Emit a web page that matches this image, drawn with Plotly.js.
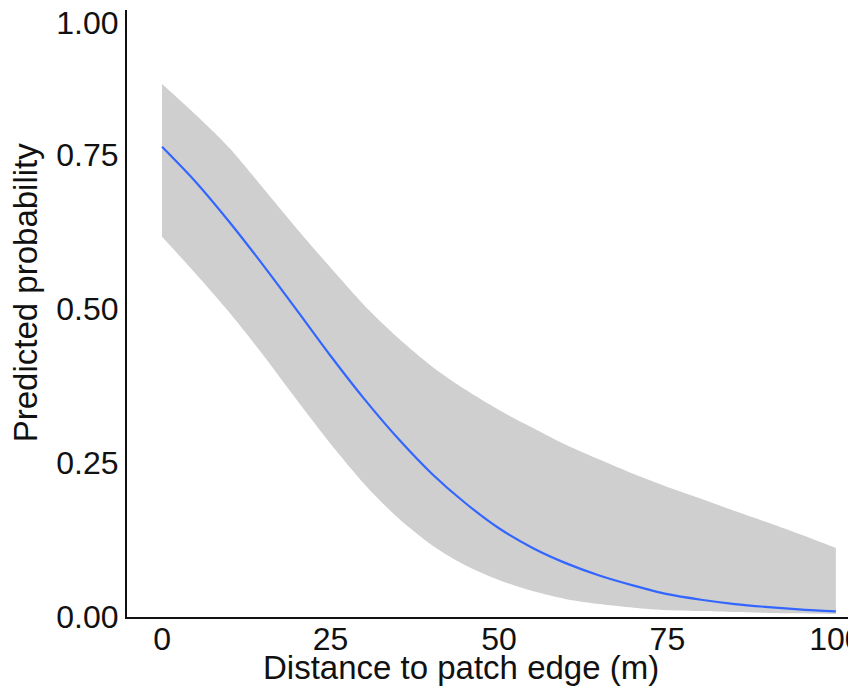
<!DOCTYPE html>
<html>
<head>
<meta charset="utf-8">
<script src="https://cdn.plot.ly/plotly-3.0.1.min.js"></script>
<style>html,body{margin:0;padding:0;background:#fff;}#chart{width:848px;height:687px;}</style>
</head>
<body>
<div id="chart"></div>
<script>
// Distance to patch edge (m)
const distance = [0,5,10,15,20,25,30,35,40,45,50,55,60,65,70,75,80,85,90,95,100];
// Predicted probability (fitted line)
const predicted = [0.763,0.706,0.641,0.571,0.498,0.424,0.354,0.290,0.233,0.185,0.144,0.112,0.087,0.067,0.051,0.037,0.028,0.021,0.016,0.012,0.009];
// Confidence band
const upperCI = [0.865,0.815,0.761,0.696,0.630,0.567,0.506,0.453,0.407,0.369,0.336,0.307,0.279,0.255,0.232,0.211,0.192,0.172,0.153,0.133,0.112];
const lowerCI = [0.617,0.557,0.494,0.425,0.352,0.281,0.216,0.161,0.117,0.084,0.060,0.042,0.029,0.021,0.015,0.011,0.0097,0.008,0.0065,0.006,0.005];
// Axis ticks
const xTickVals = [0,25,50,75,100];
const xTickText = ['0','25','50','75','100'];
const yTickVals = [0,0.25,0.5,0.75,0.964];
const yTickText = ['0.00','0.25','0.50','0.75','1.00'];
const xTitle = 'Distance to patch edge (m)';
const yTitle = 'Predicted probability';

const font = 'Liberation Sans, Arial, Helvetica, sans-serif';

const traces = [
  {x: distance, y: lowerCI, type: 'scatter', mode: 'lines', line: {width: 0, color: 'rgba(0,0,0,0)', shape: 'spline', smoothing: 0.8}, showlegend: false, hoverinfo: 'skip'},
  {x: distance, y: upperCI, type: 'scatter', mode: 'lines', line: {width: 0, color: 'rgba(0,0,0,0)', shape: 'spline', smoothing: 0.8}, fill: 'tonexty', fillcolor: '#cfcfcf', showlegend: false, hoverinfo: 'skip'},
  {x: distance, y: predicted, type: 'scatter', mode: 'lines', line: {width: 2.2, color: '#3366ff', shape: 'spline', smoothing: 0.8}, showlegend: false}
];

const layout = {
  width: 848, height: 687,
  margin: {l: 127, r: 0, t: 10, b: 70, pad: 0, autoexpand: false},
  paper_bgcolor: '#fff', plot_bgcolor: '#fff',
  font: {family: font, size: 32, color: '#111'},
  showlegend: false,
  xaxis: {
    range: [-5.2, 101.8], showgrid: false, zeroline: false,
    showline: true, linecolor: '#111', linewidth: 2,
    tickvals: xTickVals, ticktext: xTickText, ticks: '',
    ticklabelstandoff: -7, ticklabeloverflow: 'allow',
    tickfont: {family: font, size: 32, color: '#111'}, automargin: false
  },
  yaxis: {
    range: [0, 0.985], showgrid: false, zeroline: false,
    showline: true, linecolor: '#111', linewidth: 2,
    tickvals: yTickVals, ticktext: yTickText, ticks: '',
    ticklabelstandoff: 0, ticklabeloverflow: 'allow',
    tickfont: {family: font, size: 32, color: '#111'}, automargin: false
  },
  annotations: [
    {text: xTitle, xref: 'paper', yref: 'paper', x: 0.463, y: -0.0824, xanchor: 'center', yanchor: 'middle', showarrow: false, font: {family: font, size: 33, color: '#111'}},
    {text: yTitle, xref: 'paper', yref: 'paper', x: -0.1415, y: 0.535, xanchor: 'center', yanchor: 'middle', textangle: -90, showarrow: false, font: {family: font, size: 33, color: '#111'}}
  ]
};

Plotly.newPlot('chart', traces, layout, {staticPlot: true, displayModeBar: false});
</script>
</body>
</html>
